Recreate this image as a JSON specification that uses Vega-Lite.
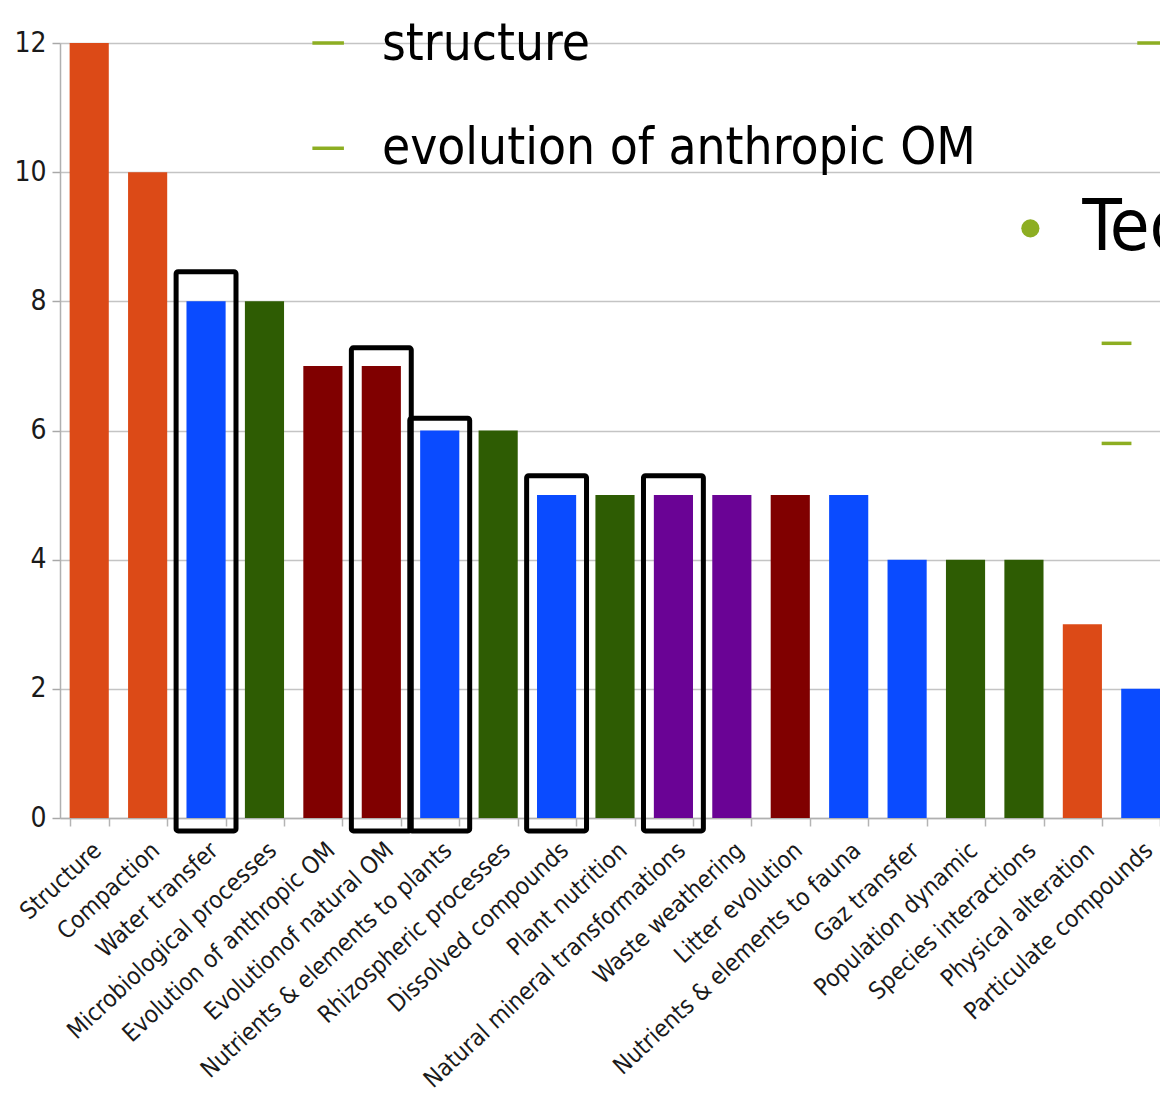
{
  "$schema": "https://vega.github.io/schema/vega-lite/v6.json",
  "autosize": "none",
  "padding": {"left": 60, "top": 43, "right": 0, "bottom": 276},
  "width": 1110,
  "height": 775,
  "background": "white",
  "config": {
    "view": {"stroke": null},
    "font": "DejaVu Sans Condensed, Liberation Sans Narrow, sans-serif"
  },
  "datasets": {
    "bars": [
      {"category": "Structure", "count": 12, "group": "orange"},
      {"category": "Compaction", "count": 10, "group": "orange"},
      {"category": "Water transfer", "count": 8, "group": "blue"},
      {"category": "Microbiological processes", "count": 8, "group": "green"},
      {"category": "Evolution of anthropic OM", "count": 7, "group": "darkred"},
      {"category": "Evolutionof natural OM", "count": 7, "group": "darkred"},
      {"category": "Nutrients & elements to plants", "count": 6, "group": "blue"},
      {"category": "Rhizospheric processes", "count": 6, "group": "green"},
      {"category": "Dissolved compounds", "count": 5, "group": "blue"},
      {"category": "Plant nutrition", "count": 5, "group": "green"},
      {"category": "Natural mineral transformations", "count": 5, "group": "purple"},
      {"category": "Waste weathering", "count": 5, "group": "purple"},
      {"category": "Litter evolution", "count": 5, "group": "darkred"},
      {"category": "Nutrients & elements to fauna", "count": 5, "group": "blue"},
      {"category": "Gaz transfer", "count": 4, "group": "blue"},
      {"category": "Population dynamic", "count": 4, "group": "green"},
      {"category": "Species interactions", "count": 4, "group": "green"},
      {"category": "Physical alteration", "count": 3, "group": "orange"},
      {"category": "Particulate compounds", "count": 2, "group": "blue"}
    ],
    "highlights": [
      {"category": "Water transfer", "top": 8.46, "bottom": -0.2},
      {"category": "Evolutionof natural OM", "top": 7.28, "bottom": -0.2},
      {"category": "Nutrients & elements to plants", "top": 6.19, "bottom": -0.2},
      {"category": "Dissolved compounds", "top": 5.3, "bottom": -0.2},
      {"category": "Natural mineral transformations", "top": 5.3, "bottom": -0.2}
    ],
    "dashes": [
      {"x0": 4.32, "x1": 4.86, "y": 12.0},
      {"x0": 4.32, "x1": 4.86, "y": 10.37},
      {"x0": 18.44, "x1": 19.3, "y": 12.0},
      {"x0": 17.83, "x1": 18.34, "y": 7.35},
      {"x0": 17.83, "x1": 18.34, "y": 5.8}
    ],
    "notes": [
      {"x": 5.51, "y": 11.73, "text": "structure"},
      {"x": 5.51, "y": 10.13, "text": "evolution of anthropic OM"}
    ],
    "heading": [
      {"x": 17.5, "y": 8.79, "text": "Tec", "bx": 16.61, "by": 9.13}
    ]
  },
  "layer": [
    {
      "layer": [
        {
          "data": {"name": "bars"},
          "mark": {"type": "bar"},
          "encoding": {
            "x": {
              "field": "category", "type": "nominal", "sort": null,
              "scale": {"paddingInner": 0.33, "paddingOuter": 0.165},
              "axis": {
                "title": null, "labelAngle": -43, "labelAlign": "right", "labelBaseline": "top",
                "labelFontSize": 24, "labelColor": "#1a1a1a", "labelPadding": 12, "labelLimit": 0,
                "tickBand": "extent", "tickOffset": -9.6, "tickColor": "#b4b4b4", "tickSize": 8, "tickWidth": 1.5,
                "domainColor": "#b0b0b0", "domainWidth": 1.5, "grid": false
              }
            },
            "y": {
              "field": "count", "type": "quantitative",
              "scale": {"domain": [0, 12], "nice": false, "zero": true},
              "axis": {
                "title": null, "values": [0, 2, 4, 6, 8, 10, 12], "format": "d",
                "labelFontSize": 28, "labelColor": "#1a1a1a", "labelPadding": 6,
                "tickColor": "#a8a8a8", "tickSize": 8, "tickWidth": 1.5,
                "domainColor": "#b0b0b0", "domainWidth": 1.5,
                "gridColor": "#c4c4c4", "gridWidth": 1.5
              }
            },
            "color": {
              "field": "group", "type": "nominal", "legend": null,
              "scale": {
                "domain": ["orange", "blue", "green", "darkred", "purple"],
                "range": ["#DC4A17", "#0A4BFF", "#2E5C03", "#800000", "#6A0395"]
              }
            }
          }
        },
        {
          "data": {"name": "highlights"},
          "mark": {"type": "bar", "fillOpacity": 0, "stroke": "#000000", "strokeWidth": 5, "cornerRadius": 2, "width": {"band": 1.53}},
          "encoding": {
            "x": {"field": "category", "type": "nominal", "sort": null},
            "y": {"field": "top", "type": "quantitative", "scale": {"domain": [0, 12], "nice": false}},
            "y2": {"field": "bottom"}
          }
        }
      ]
    },
    {
      "data": {"name": "dashes"},
      "mark": {"type": "rule", "color": "#8DAE22", "strokeWidth": 3.5},
      "encoding": {
        "x": {"field": "x0", "type": "quantitative", "scale": {"domain": [0, 19], "nice": false, "zero": false}, "axis": null},
        "x2": {"field": "x1"},
        "y": {"field": "y", "type": "quantitative", "scale": {"domain": [0, 12], "nice": false}}
      }
    },
    {
      "data": {"name": "notes"},
      "mark": {"type": "text", "align": "left", "baseline": "alphabetic", "fontSize": 51, "color": "#000000"},
      "encoding": {
        "x": {"field": "x", "type": "quantitative", "scale": {"domain": [0, 19], "nice": false, "zero": false}, "axis": null},
        "y": {"field": "y", "type": "quantitative", "scale": {"domain": [0, 12], "nice": false}},
        "text": {"field": "text"}
      }
    },
    {
      "data": {"name": "heading"},
      "mark": {"type": "text", "align": "left", "baseline": "alphabetic", "fontSize": 72, "color": "#000000"},
      "encoding": {
        "x": {"field": "x", "type": "quantitative", "scale": {"domain": [0, 19], "nice": false, "zero": false}, "axis": null},
        "y": {"field": "y", "type": "quantitative", "scale": {"domain": [0, 12], "nice": false}},
        "text": {"field": "text"}
      }
    },
    {
      "data": {"name": "heading"},
      "mark": {"type": "point", "filled": true, "color": "#8DAE22", "size": 330, "opacity": 1},
      "encoding": {
        "x": {"field": "bx", "type": "quantitative", "scale": {"domain": [0, 19], "nice": false, "zero": false}, "axis": null},
        "y": {"field": "by", "type": "quantitative", "scale": {"domain": [0, 12], "nice": false}}
      }
    }
  ],
  "resolve": {"scale": {"x": "independent"}}
}
